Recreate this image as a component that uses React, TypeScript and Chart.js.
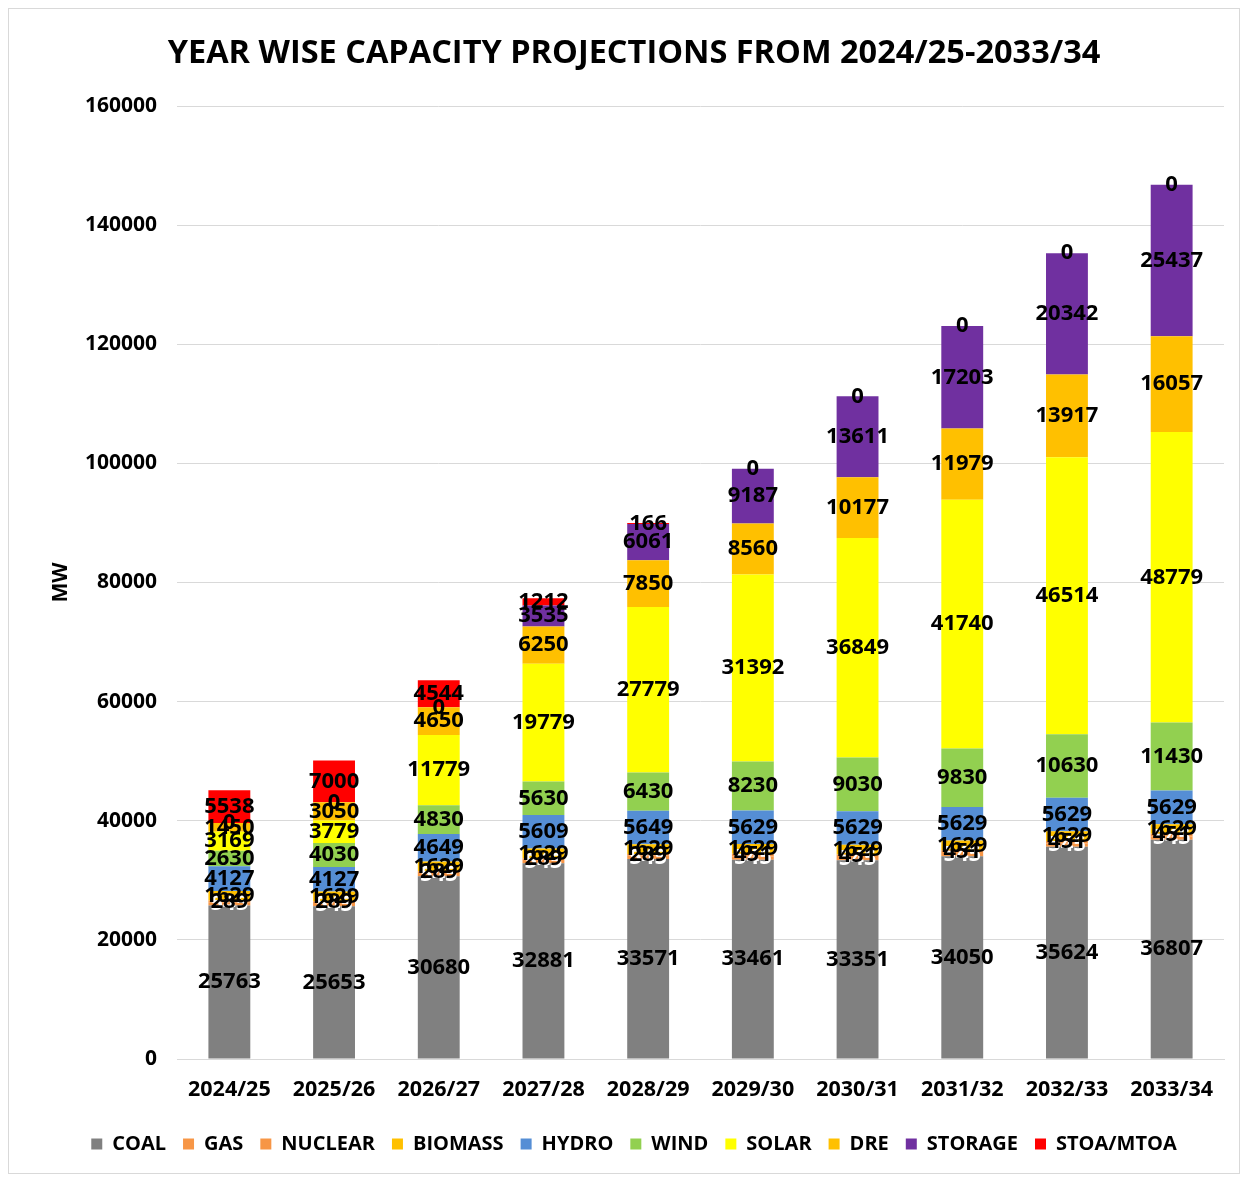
import React, { useEffect, useRef } from "react";
import { Chart, registerables } from "chart.js";

Chart.register(...registerables);

const categories = ["2024/25", "2025/26", "2026/27", "2027/28", "2028/29", "2029/30", "2030/31", "2031/32", "2032/33", "2033/34"];
const coal = [25763, 25653, 30680, 32881, 33571, 33461, 33351, 34050, 35624, 36807];
const gas = [545, 545, 545, 545, 545, 545, 545, 545, 545, 545];
const nuclear = [289, 289, 289, 289, 289, 451, 451, 451, 451, 451];
const biomass = [1629, 1629, 1629, 1629, 1629, 1629, 1629, 1629, 1629, 1629];
const hydro = [4127, 4127, 4649, 5609, 5649, 5629, 5629, 5629, 5629, 5629];
const wind = [2630, 4030, 4830, 5630, 6430, 8230, 9030, 9830, 10630, 11430];
const solar = [3169, 3779, 11779, 19779, 27779, 31392, 36849, 41740, 46514, 48779];
const dre = [1450, 3050, 4650, 6250, 7850, 8560, 10177, 11979, 13917, 16057];
const storage = [0, 0, 0, 3535, 6061, 9187, 13611, 17203, 20342, 25437];
const stoa = [5538, 7000, 4544, 1212, 166, 0, 0, 0, 0, 0];
const yTicks = [0, 20000, 40000, 60000, 80000, 100000, 120000, 140000, 160000];

const FONT = "'Open Sans', 'DejaVu Sans', sans-serif";

const labelPlugin = {
  id: "segLabels",
  afterDatasetsDraw(chart: any) {
    const ctx = chart.ctx;
    ctx.save();
    ctx.font = `bold 22px ${FONT}`;
    ctx.textAlign = "center";
    ctx.textBaseline = "middle";
    chart.data.datasets.forEach((ds: any, i: number) => {
      const meta = chart.getDatasetMeta(i);
      meta.data.forEach((el: any, j: number) => {
        const v = ds.data[j];
        const p = el.getProps(["x", "y", "base"], true);
        ctx.fillStyle = ds.labelColor || "#000";
        ctx.fillText(String(v), p.x, (p.y + p.base) / 2);
      });
    });
    ctx.restore();
  },
};

export default function App() {
  const ref = useRef<HTMLCanvasElement>(null);

  useEffect(() => {
    if (!ref.current) return;
    const mk = (label: string, data: number[], color: string, labelColor = "#000") => ({
      label,
      data,
      backgroundColor: color,
      borderWidth: 0,
      labelColor,
      stack: "s",
    });
    const chart = new Chart(ref.current, {
      type: "bar",
      data: {
        labels: categories,
        datasets: [
          mk("COAL", coal, "#808080"),
          mk("GAS", gas, "#F79646", "#fff"),
          mk("NUCLEAR", nuclear, "#F79646"),
          mk("BIOMASS", biomass, "#FFC000"),
          mk("HYDRO", hydro, "#558ED5"),
          mk("WIND", wind, "#92D050"),
          mk("SOLAR", solar, "#FFFF00"),
          mk("DRE", dre, "#FFC000"),
          mk("STORAGE", storage, "#7030A0"),
          mk("STOA/MTOA", stoa, "#FF0000"),
        ] as any,
      },
      options: {
        responsive: false,
        animation: false,
        layout: { padding: { left: 35, right: 15, top: 0, bottom: 9 } },
        datasets: { bar: { categoryPercentage: 1, barPercentage: 0.4 } },
        plugins: {
          title: {
            display: true,
            text: "YEAR WISE CAPACITY PROJECTIONS FROM 2024/25-2033/34",
            color: "#000",
            font: { family: FONT, size: 32.5, weight: "bold" },
            padding: { top: 25, bottom: 33 },
          },
          legend: {
            position: "bottom",
            labels: {
              color: "#000",
              font: { family: FONT, size: 20, weight: "bold" },
              boxWidth: 11,
              boxHeight: 11,
              padding: 17,
            },
          },
          tooltip: { enabled: false },
        },
        scales: {
          x: {
            stacked: true,
            grid: { display: false, drawTicks: false },
            border: { display: true, color: "#d9d9d9" },
            ticks: { color: "#000", font: { family: FONT, size: 21.5, weight: "bold" }, padding: 18 },
            afterFit: (s: any) => { s.height = 58; },
          },
          y: {
            stacked: true,
            min: 0,
            max: 160000,
            afterBuildTicks: (s: any) => { s.ticks = yTicks.map((v) => ({ value: v })); },
            grid: { color: "#d9d9d9", drawTicks: false },
            border: { display: false },
            ticks: {
              color: "#000",
              font: { family: FONT, size: 21, weight: "bold" },
              padding: 20,
              callback: (v: any) => String(v),
            },
            title: { display: true, text: "MW", color: "#000", font: { family: FONT, size: 21, weight: "bold" } },
            afterFit: (s: any) => { s.width = 133; },
          },
        },
      },
      plugins: [labelPlugin],
    } as any);
    return () => chart.destroy();
  }, []);

  return (
    <div style={{ width: 1232, height: 1166, border: "1px solid #d9d9d9", boxSizing: "border-box", background: "#fff" }}>
      <canvas ref={ref} width={1230} height={1164} style={{ display: "block" }} />
    </div>
  );
}
